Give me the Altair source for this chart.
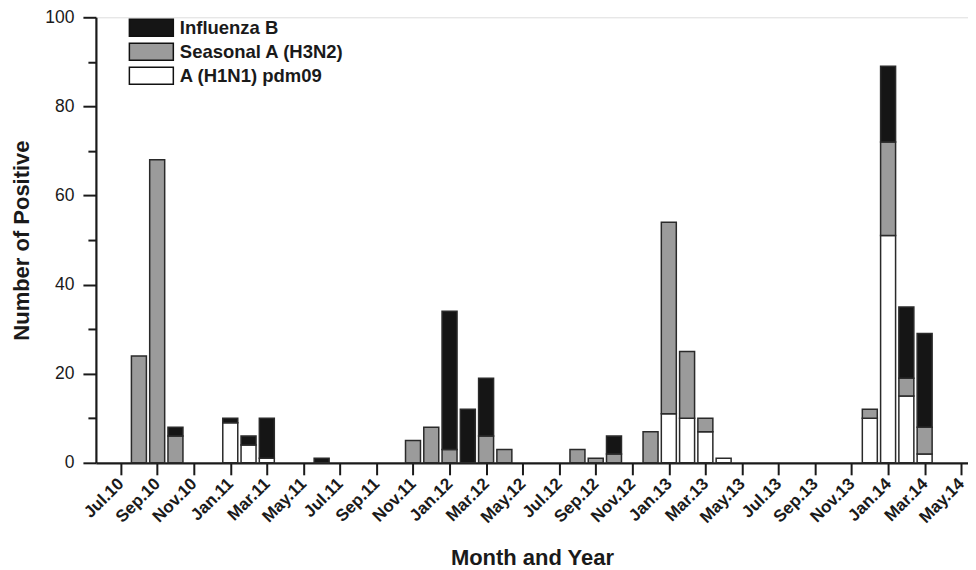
import altair as alt
import pandas as pd

# ---- data (month index 0 = Jul.10) ----
months = [
    "Jul.10", "Aug.10", "Sep.10", "Oct.10", "Nov.10", "Dec.10",
    "Jan.11", "Feb.11", "Mar.11", "Apr.11", "May.11", "Jun.11",
    "Jul.11", "Aug.11", "Sep.11", "Oct.11", "Nov.11", "Dec.11",
    "Jan.12", "Feb.12", "Mar.12", "Apr.12", "May.12", "Jun.12",
    "Jul.12", "Aug.12", "Sep.12", "Oct.12", "Nov.12", "Dec.12",
    "Jan.13", "Feb.13", "Mar.13", "Apr.13", "May.13", "Jun.13",
    "Jul.13", "Aug.13", "Sep.13", "Oct.13", "Nov.13", "Dec.13",
    "Jan.14", "Feb.14", "Mar.14", "Apr.14", "May.14",
]
h1n1 = [0, 0, 0, 0, 0, 0,
        9, 4, 1, 0, 0, 0,
        0, 0, 0, 0, 0, 0,
        0, 0, 0, 0, 0, 0,
        0, 0, 0, 0, 0, 0,
        11, 10, 7, 1, 0, 0,
        0, 0, 0, 0, 0, 10,
        51, 15, 2, 0, 0]
h3n2 = [0, 24, 68, 6, 0, 0,
        0, 0, 0, 0, 0, 0,
        0, 0, 0, 0, 5, 8,
        3, 0, 6, 3, 0, 0,
        0, 3, 1, 2, 0, 7,
        43, 15, 3, 0, 0, 0,
        0, 0, 0, 0, 0, 2,
        21, 4, 6, 0, 0]
flu_b = [0, 0, 0, 2, 0, 0,
         1, 2, 9, 0, 0, 1,
         0, 0, 0, 0, 0, 0,
         31, 12, 13, 0, 0, 0,
         0, 0, 0, 4, 0, 0,
         0, 0, 0, 0, 0, 0,
         0, 0, 0, 0, 0, 0,
         17, 16, 21, 0, 0]

legend_names = ["Influenza B", "Seasonal A (H3N2)", "A (H1N1) pdm09"]
legend_colors = ["#151515", "#9b9b9b", "#ffffff"]
y_ticks = [0, 10, 20, 30, 40, 50, 60, 70, 80, 90, 100]

# ---- long table ----
rows = []
for i, m in enumerate(months):
    for order, (name, vals) in enumerate([
        ("A (H1N1) pdm09", h1n1),
        ("Seasonal A (H3N2)", h3n2),
        ("Influenza B", flu_b),
    ]):
        if vals[i] > 0:
            rows.append({"idx": i, "month": m, "series": name,
                         "count": vals[i], "stackorder": order})
df = pd.DataFrame(rows)

label_array = "[" + ",".join("'" + m + "'" for m in months) + "]"
FONT = "Liberation Sans"

chart = alt.Chart(df).mark_bar(
    size=15, stroke="#2a2a2a", strokeWidth=1.5
).encode(
    x=alt.X(
        "idx:Q",
        scale=alt.Scale(domain=[-1.08, 46.1], nice=False, zero=False),
        axis=alt.Axis(
            title="Month and Year",
            values=list(range(0, len(months), 2)),
            labelExpr=label_array + "[datum.value]",
            labelOverlap=False,
            labelAngle=-45,
            labelAlign="right",
            labelBaseline="middle",
            labelPadding=6,
            labelFont=FONT, labelFontSize=17, labelFontWeight="bold",
            labelColor="#1a1a1a",
            tickSize=12, tickWidth=2, tickColor="#1a1a1a",
            domainWidth=2.2, domainColor="#1a1a1a",
            titleFont=FONT, titleFontSize=22, titleFontWeight="bold",
            titleColor="#1a1a1a", titlePadding=22,
            grid=False,
        ),
    ),
    y=alt.Y(
        "count:Q",
        stack="zero",
        scale=alt.Scale(domain=[0, 100], nice=False),
        axis=alt.Axis(
            title="Number of Positive",
            values=y_ticks,
            labelExpr="datum.value % 20 == 0 ? datum.label : ''",
            labelFont=FONT, labelFontSize=17.5, labelFontWeight="normal",
            labelColor="#1a1a1a", labelPadding=9,
            tickSize={"condition": {"test": "datum.value % 20 == 0", "value": 13}, "value": 8},
            tickWidth=2, tickColor="#1a1a1a",
            domainWidth=2.2, domainColor="#1a1a1a",
            titleFont=FONT, titleFontSize=22, titleFontWeight="bold",
            titleColor="#1a1a1a", titlePadding=11,
            grid=False,
        ),
    ),
    color=alt.Color(
        "series:N",
        scale=alt.Scale(domain=legend_names, range=legend_colors),
        legend=alt.Legend(
            title=None,
            orient="none",
            legendX=46,
            legendY=1,
            symbolType="M-2.588,-1H2.588V1H-2.588Z",
            symbolSize=289,
            symbolStrokeColor="#111111",
            symbolStrokeWidth=1.5,
            symbolFillColor="#ffffff",
            labelFont=FONT, labelFontSize=18.5, labelFontWeight="bold",
            labelColor="#1a1a1a",
            labelLimit=0,
            labelOffset=19,
            rowPadding=1,
        ),
    ),
    order=alt.Order("stackorder:Q", sort="ascending"),
    tooltip=["month:N", "series:N", "count:Q"],
).properties(
    width=873,
    height=446,
    padding={"left": 2, "top": 0, "right": 0, "bottom": 0},
).configure_view(
    stroke=None
).configure(background="#ffffff")

chart.save("out.html", embed_options={"renderer": "svg", "actions": False})
